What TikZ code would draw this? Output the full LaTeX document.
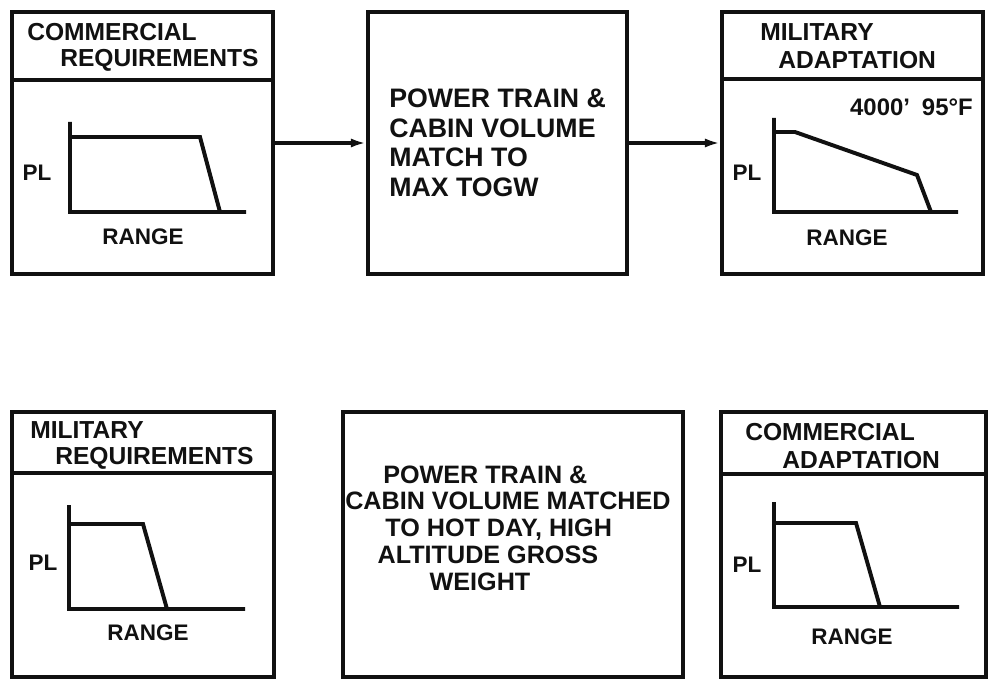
\documentclass[tikz,border=0pt]{standalone}
\usepackage{fontspec}
\setmainfont{Liberation Sans}
\usepackage{tikz}
\usetikzlibrary{arrows.meta,positioning}
\definecolor{rqink}{HTML}{111111}
\tikzstyle{rqframe}=[draw=rqink,line width=2.4pt,inner sep=0pt]
\tikzstyle{rqline}=[draw=rqink,line width=2.2pt]
\tikzstyle{rqhead}=[font=\bfseries\fontsize{17.5}{20}\selectfont,text=rqink,inner sep=0pt,anchor=west]
\tikzstyle{rqbody}=[font=\bfseries\fontsize{19}{21}\selectfont,text=rqink,inner sep=0pt,anchor=west,align=left]
\tikzstyle{rqaxis}=[draw=rqink,line width=2.8pt,line join=miter]
\tikzstyle{rqlabel}=[font=\bfseries\fontsize{16}{18}\selectfont,text=rqink,inner sep=0pt]
\tikzstyle{rqarrow}=[draw=rqink,line width=2.2pt,-{Latex[length=11pt,width=6.5pt]}]

\begin{document}
\begin{tikzpicture}[x=0.025cm,y=-0.025cm]
    \useasboundingbox (0,0) rectangle (991,689);
    % frames
    \foreach \nm/\cx/\cy/\w/\h in {crq/142.5/143/6.525/6.55,ptm/497.5/143/6.475/6.55,mad/852.5/143/6.525/6.55,
      mrq/143/544.5/6.55/6.625,pth/513/544.5/8.5/6.625,cad/853.5/544.5/6.625/6.625}
      {\node[rqframe,minimum width=\w cm,minimum height=\h cm] (\nm) at (\cx,\cy) {};}
    \foreach \nm/\dy in {crq/80,mad/79,mrq/473,cad/474} {\draw[rqline] (\nm.west |- 0,\dy) -- (\nm.east |- 0,\dy);}
    % headings
    \foreach \nm/\x/\y/\t in {crqa/27/32/COMMERCIAL,crqb/60/60/REQUIREMENTS,mada/760/32/MILITARY,madb/778/60/ADAPTATION,
      mrqa/30/430/MILITARY,mrqb/55/458/REQUIREMENTS,cada/745/432/COMMERCIAL,cadb/782/460/ADAPTATION}
      {\node[rqhead] (\nm) at (\x,\y) {\t};}
    % PL / range charts
    \foreach \ax/\ty/\by/\py/\pe/\dx/\be in {70/122/212/137/200/220/246,69/505/609/524/143/167/245,774/502/607/523/856/880/959}
      {\draw[rqaxis] (\ax,\ty) -- (\ax,\by) -- (\be,\by) (\ax,\py) -- (\pe,\py) -- (\dx,\by);}
    \draw[rqaxis] (774,118) -- (774,212) -- (958,212) (774,132) -- (795,132) -- (917,175) -- (931,212);
    \foreach \nm/\px/\py/\rx/\ry in {crq/37/173/143/237,mad/747/173/847/238,mrq/43/563/148/633,cad/747/565/852/637}
      {\node[rqlabel] (\nm pl) at (\px,\py) {PL}; \node[rqlabel] (\nm rg) at (\rx,\ry) {RANGE};}
    \node[rqlabel,anchor=east,font=\bfseries\fontsize{17}{18}\selectfont] (madtemp) at (973,107) {4000'\hspace{0.5em}95°F};
    % middle texts
    \node[rqbody] (ptmtxt) at (389,143) {POWER TRAIN \&\\CABIN VOLUME\\MATCH TO\\MAX TOGW};
    \node[rqbody,font=\bfseries\fontsize{17.9}{19}\selectfont] (pthtxt) at (345,528)
      {\hspace*{27pt}POWER TRAIN \&\\CABIN VOLUME MATCHED\\\hspace*{28.5pt}TO HOT DAY, HIGH\\\hspace*{23pt}ALTITUDE GROSS\\\hspace*{60pt}WEIGHT};
    \draw[rqarrow] (crq) -- (ptm);
    \draw[rqarrow] (ptm) -- (mad);
\end{tikzpicture}
\end{document}
